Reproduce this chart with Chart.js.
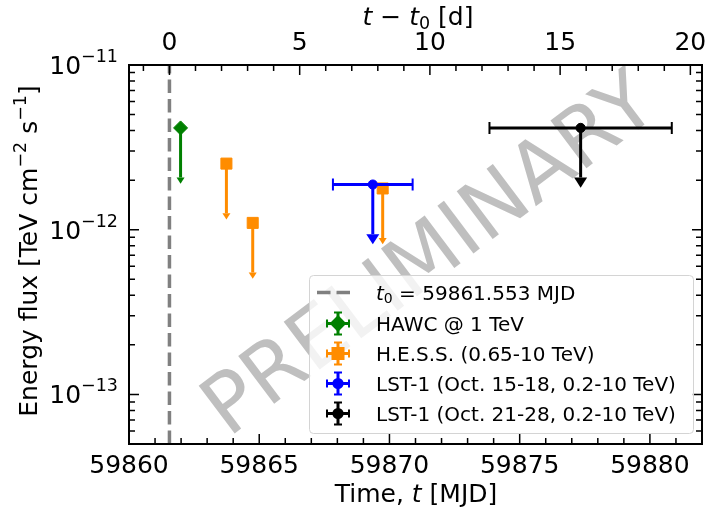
<!DOCTYPE html>
<html>
<head>
<meta charset="utf-8">
<script src="https://cdn.jsdelivr.net/npm/chart.js@4.4.1/dist/chart.umd.min.js"></script>
<style>
  html, body { margin: 0; padding: 0; background: #fff; }
  canvas { display: block; }
</style>
</head>
<body>
<canvas id="lc" width="709" height="513"></canvas>
<script>
// reference time of the flare
const t0 = 59861.553;

// light-curve upper limits
const hawcTime = [59861.98];
const hawcFlux = [4.15e-12];
const hessTime = [59863.74, 59864.75, 59869.74];
const hessFlux = [2.52e-12, 1.10e-12, 1.78e-12];
const lst1Time = [59869.36];
const lst1TimeErr = [1.53];
const lst1Flux = [1.88e-12];
const lst2Time = [59877.34];
const lst2TimeErr = [3.5];
const lst2Flux = [4.15e-12];
const ulDrop = 0.5; // upper-limit arrows go down to half the flux

const seriesLabels = ['HAWC @ 1 TeV', 'H.E.S.S. (0.65-10 TeV)', 'LST-1 (Oct. 15-18, 0.2-10 TeV)', 'LST-1 (Oct. 21-28, 0.2-10 TeV)'];
const seriesColors = ['#008000', '#ff8c00', '#0000ff', '#000000'];
const t0Label = '59861.553 MJD';

const xRange = [59860, 59882];
const yRange = [5e-14, 1e-11];
const mjdTicks = [59860, 59865, 59870, 59875, 59880];
const relTicks = [0, 5, 10, 15, 20];
const decadeTicks = [-11, -12, -13];

const FONT = "'DejaVu Sans', sans-serif";
const font = (px, style) => (style || 'normal') + ' ' + px + 'px ' + FONT;

function pts(times, fluxes, errs) {
  return times.map((t, i) => ({ x: t, y: fluxes[i], xErr: errs ? errs[i] : 0 }));
}

// text with mixed fonts (italic, super/subscripts)
function richText(ctx, parts, x, y, align) {
  let w = 0;
  parts.forEach(p => { ctx.font = p.font; p.w = ctx.measureText(p.text).width; w += p.w; });
  let cx = align === 'center' ? x - w / 2 : align === 'right' ? x - w : x;
  ctx.textAlign = 'left';
  ctx.textBaseline = 'alphabetic';
  parts.forEach(p => { ctx.font = p.font; ctx.fillText(p.text, cx, y + (p.dy || 0)); cx += p.w; });
}

function caretDown(ctx, x, y, a) {
  ctx.beginPath();
  ctx.moveTo(x - a / 2, y);
  ctx.lineTo(x + a / 2, y);
  ctx.lineTo(x, y + a * 0.78);
  ctx.closePath();
  ctx.fill();
}

const errorBars = {
  id: 'errorBars',
  beforeDatasetDraw(chart, args) {
    const ds = chart.data.datasets[args.index];
    if (!ds.upperLimit) return;
    const { ctx, scales: { x, y } } = chart;
    ctx.save();
    ctx.strokeStyle = ds.borderColor;
    ctx.fillStyle = ds.borderColor;
    ds.data.forEach(p => {
      const px = x.getPixelForValue(p.x);
      const py = y.getPixelForValue(p.y);
      const pl = y.getPixelForValue(p.y * ulDrop);
      ctx.lineWidth = 3;
      ctx.beginPath(); ctx.moveTo(px, py); ctx.lineTo(px, pl); ctx.stroke();
      caretDown(ctx, px, pl, ds.arrowSize);
      if (p.xErr) {
        const x1 = x.getPixelForValue(p.x - p.xErr);
        const x2 = x.getPixelForValue(p.x + p.xErr);
        ctx.beginPath(); ctx.moveTo(x1, py); ctx.lineTo(x2, py); ctx.stroke();
        ctx.lineWidth = 2;
        ctx.beginPath();
        ctx.moveTo(x1, py - 6); ctx.lineTo(x1, py + 6);
        ctx.moveTo(x2, py - 6); ctx.lineTo(x2, py + 6);
        ctx.stroke();
      }
    });
    ctx.restore();
  }
};

const watermark = {
  id: 'watermark',
  beforeDatasetsDraw(chart) {
    const { ctx, chartArea: a } = chart;
    ctx.save();
    ctx.beginPath(); ctx.rect(a.left, a.top, a.right - a.left, a.bottom - a.top); ctx.clip();
    ctx.translate(432, 258);
    ctx.rotate(-37 * Math.PI / 180);
    ctx.font = font(82);
    ctx.fillStyle = 'rgba(128,128,128,0.5)';
    ctx.textAlign = 'center';
    ctx.textBaseline = 'middle';
    ctx.fillText('PRELIMINARY', 0, 0);
    ctx.restore();
  }
};

const frame = {
  id: 'frame',
  afterDatasetsDraw(chart) {
    const { ctx, chartArea: a, scales } = chart;
    const xs = scales.x, ys = scales.y;
    ctx.save();
    ctx.strokeStyle = '#000';
    ctx.lineWidth = 1.5;
    ctx.beginPath();
    // bottom axis ticks (MJD), top axis ticks (t - t0)
    for (let d = Math.ceil(xRange[0]); d <= xRange[1]; d++) {
      const px = xs.getPixelForValue(d);
      const len = mjdTicks.includes(d) ? 10 : 6;
      ctx.moveTo(px, a.bottom); ctx.lineTo(px, a.bottom - len);
    }
    for (let d = Math.ceil(xRange[0] - t0); d <= xRange[1] - t0; d++) {
      const px = scales.xTop.getPixelForValue(d);
      const len = relTicks.includes(d) ? 10 : 6;
      ctx.moveTo(px, a.top); ctx.lineTo(px, a.top + len);
    }
    // log ticks on both vertical spines
    for (let e = -14; e <= -11; e++) {
      for (let m = 1; m <= 9; m++) {
        const v = m * Math.pow(10, e);
        if (v < yRange[0] * 0.999 || v > yRange[1] * 1.001) continue;
        const py = ys.getPixelForValue(v);
        const len = m === 1 ? 10 : 6;
        ctx.moveTo(a.left, py); ctx.lineTo(a.left + len, py);
        ctx.moveTo(a.right, py); ctx.lineTo(a.right - len, py);
      }
    }
    ctx.stroke();
    ctx.lineWidth = 2;
    ctx.strokeRect(a.left, a.top, a.right - a.left, a.bottom - a.top);

    // tick labels
    ctx.fillStyle = '#000';
    ctx.font = font(25);
    ctx.textAlign = 'center';
    ctx.textBaseline = 'alphabetic';
    mjdTicks.forEach(v => ctx.fillText(String(v), xs.getPixelForValue(v), 473));
    relTicks.forEach(v => ctx.fillText(String(v), scales.xTop.getPixelForValue(v), 50));
    decadeTicks.forEach(e => {
      const py = ys.getPixelForValue(Math.pow(10, e));
      richText(ctx, [
        { text: '10', font: font(25) },
        { text: '\u2212' + Math.abs(e), font: font(17.5), dy: -12 }
      ], 118, py + 9, 'right');
    });

    // axis titles
    richText(ctx, [
      { text: 'Time, ', font: font(25) },
      { text: 't', font: font(25, 'italic') },
      { text: ' [MJD]', font: font(25) }
    ], 416, 502, 'center');
    richText(ctx, [
      { text: 't', font: font(25, 'italic') },
      { text: ' \u2212 ', font: font(25) },
      { text: 't', font: font(25, 'italic') },
      { text: '0', font: font(17.5), dy: 4 },
      { text: ' [d]', font: font(25) }
    ], 418, 25, 'center');
    ctx.save();
    ctx.translate(37, 251);
    ctx.rotate(-Math.PI / 2);
    richText(ctx, [
      { text: 'Energy flux [TeV cm', font: font(25) },
      { text: '\u22122', font: font(17.5), dy: -11 },
      { text: ' s', font: font(25) },
      { text: '\u22121', font: font(17.5), dy: -11 },
      { text: ']', font: font(25) }
    ], 0, 0, 'center');
    ctx.restore();
    ctx.restore();
  }
};

function roundRect(ctx, x, y, w, h, r) {
  ctx.beginPath();
  ctx.moveTo(x + r, y);
  ctx.arcTo(x + w, y, x + w, y + h, r);
  ctx.arcTo(x + w, y + h, x, y + h, r);
  ctx.arcTo(x, y + h, x, y, r);
  ctx.arcTo(x, y, x + w, y, r);
  ctx.closePath();
}

const legendBox = {
  id: 'legendBox',
  afterDraw(chart) {
    const { ctx } = chart;
    ctx.save();
    roundRect(ctx, 309.5, 275.5, 384, 158, 4);
    ctx.fillStyle = 'rgba(255,255,255,0.8)';
    ctx.fill();
    ctx.strokeStyle = '#d4d4d4';
    ctx.lineWidth = 1;
    ctx.stroke();

    const hx = 338, tx = 376;
    const base = [300, 331, 361, 391, 421];
    // t0 line entry
    ctx.strokeStyle = '#808080';
    ctx.lineWidth = 3.5;
    ctx.setLineDash([13.5, 6]);
    ctx.beginPath(); ctx.moveTo(317, 292.5); ctx.lineTo(353, 292.5); ctx.stroke();
    ctx.setLineDash([]);
    ctx.fillStyle = '#000';
    richText(ctx, [
      { text: 't', font: font(20, 'italic') },
      { text: '0', font: font(14), dy: 3 },
      { text: ' = ' + t0Label, font: font(20) }
    ], tx, base[0], 'left');

    const dsets = chart.data.datasets.filter(d => d.upperLimit);
    dsets.forEach((ds, i) => {
      const cy = base[i + 1] - 7.5;
      ctx.strokeStyle = ds.borderColor;
      ctx.fillStyle = ds.borderColor;
      ctx.lineWidth = 3;
      ctx.beginPath();
      ctx.moveTo(hx - 11, cy); ctx.lineTo(hx + 11, cy);
      ctx.moveTo(hx, cy - 11); ctx.lineTo(hx, cy + 11);
      ctx.stroke();
      ctx.lineWidth = 2;
      ctx.beginPath();
      ctx.moveTo(hx - 11, cy - 4); ctx.lineTo(hx - 11, cy + 4);
      ctx.moveTo(hx + 11, cy - 4); ctx.lineTo(hx + 11, cy + 4);
      ctx.moveTo(hx - 4, cy - 11); ctx.lineTo(hx + 4, cy - 11);
      ctx.moveTo(hx - 4, cy + 11); ctx.lineTo(hx + 4, cy + 11);
      ctx.stroke();
      Chart.helpers.drawPoint(ctx, {
        pointStyle: ds.pointStyle, radius: ds.pointRadius, rotation: 0, borderWidth: 1
      }, hx, cy);
      ctx.fill();
      ctx.fillStyle = '#000';
      ctx.font = font(20);
      ctx.textAlign = 'left';
      ctx.fillText(ds.label, tx, base[i + 1]);
    });
    ctx.restore();
  }
};

function series(i, data, style, radius, arrow) {
  return {
    label: seriesLabels[i],
    data,
    upperLimit: true,
    arrowSize: arrow,
    showLine: false,
    pointStyle: style,
    pointRadius: radius,
    pointHoverRadius: radius,
    pointBorderWidth: 1,
    borderColor: seriesColors[i],
    backgroundColor: seriesColors[i],
    pointBackgroundColor: seriesColors[i],
    pointBorderColor: seriesColors[i],
    order: 4 - i
  };
}

new Chart(document.getElementById('lc'), {
  type: 'scatter',
  data: {
    datasets: [
      {
        label: 't0',
        type: 'line',
        data: [{ x: t0, y: yRange[0] }, { x: t0, y: yRange[1] }],
        borderColor: '#808080',
        borderWidth: 3.5,
        borderDash: [13.5, 6],
        pointRadius: 0,
        showLine: true,
        fill: false,
        order: 10
      },
      series(0, pts(hawcTime, hawcFlux), 'rectRot', 7, 8),
      series(1, pts(hessTime, hessFlux), 'rect', 7.8, 8),
      series(2, pts(lst1Time, lst1Flux, lst1TimeErr), 'circle', 4.6, 13),
      series(3, pts(lst2Time, lst2Flux, lst2TimeErr), 'circle', 4.6, 13)
    ]
  },
  options: {
    responsive: false,
    animation: false,
    devicePixelRatio: 1,
    layout: { padding: 0, autoPadding: false },
    plugins: { legend: { display: false }, tooltip: { enabled: false } },
    scales: {
      x: {
        type: 'linear', position: 'bottom', min: xRange[0], max: xRange[1],
        ticks: { display: false }, grid: { display: false }, border: { display: false },
        afterFit: s => { s.height = 69; }
      },
      xTop: {
        type: 'linear', position: 'top', min: xRange[0] - t0, max: xRange[1] - t0,
        ticks: { display: false }, grid: { display: false }, border: { display: false },
        afterFit: s => { s.height = 65; }
      },
      y: {
        type: 'logarithmic', position: 'left', min: yRange[0], max: yRange[1],
        ticks: { display: false }, grid: { display: false }, border: { display: false },
        afterFit: s => { s.width = 129; }
      },
      yRight: {
        type: 'logarithmic', position: 'right', min: yRange[0], max: yRange[1],
        ticks: { display: false }, grid: { display: false }, border: { display: false },
        afterFit: s => { s.width = 7; }
      }
    }
  },
  plugins: [watermark, errorBars, frame, legendBox]
});
</script>
</body>
</html>
